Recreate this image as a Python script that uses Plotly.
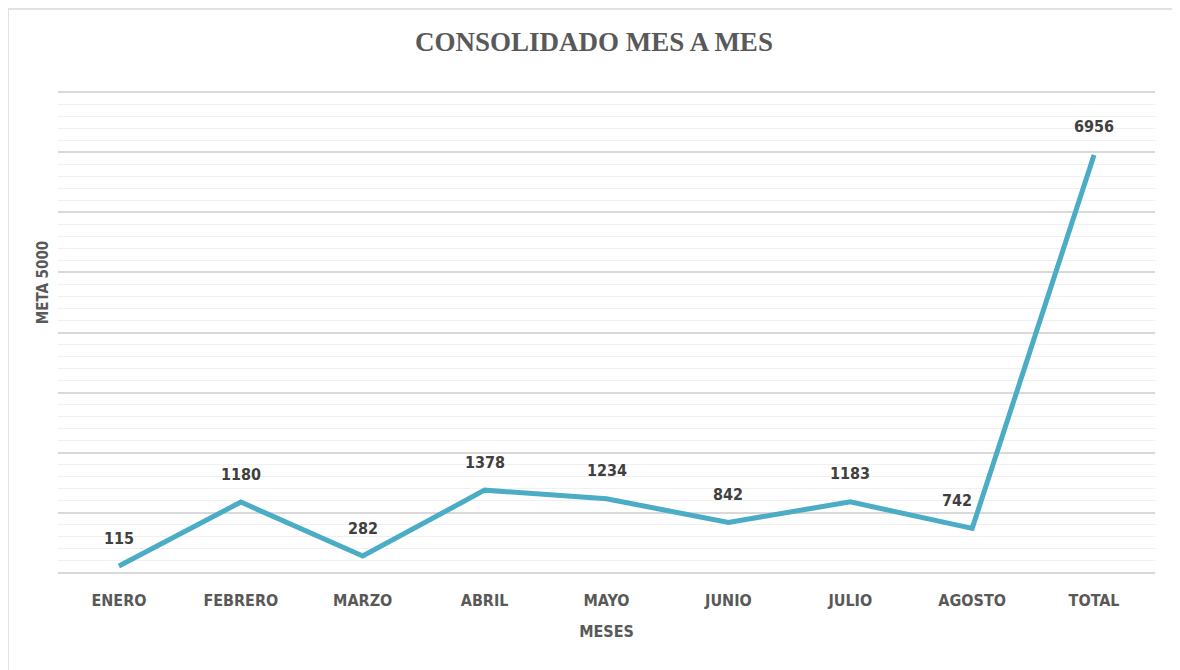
import plotly.graph_objects as go

meses = ["ENERO", "FEBRERO", "MARZO", "ABRIL", "MAYO", "JUNIO", "JULIO", "AGOSTO", "TOTAL"]
valores = [115, 1180, 282, 1378, 1234, 842, 1183, 742, 6956]
label_pos = ["c", "c", "c", "c", "c", "c", "c", "l", "c"]

title_text = "CONSOLIDADO MES A MES"
y_title = "META 5000"
x_title = "MESES"

LINE = "#4BACC6"
TXT = "#595959"
LBL = "#404040"
NARROW = "DejaVu Sans Condensed, Liberation Sans Narrow, Arial Narrow, sans-serif"

fig = go.Figure()
fig.add_trace(go.Scatter(
    x=meses, y=valores, mode="lines",
    line=dict(color=LINE, width=5, shape="linear"),
    hoverinfo="x+y", showlegend=False,
))

for m, v, p in zip(meses, valores, label_pos):
    fig.add_annotation(
        x=m, y=v, text=f"<b>{v}</b>", showarrow=False,
        xanchor="right" if p == "l" else "center",
        xshift=2 if p == "l" else 0,
        yshift=28, yanchor="middle",
        font=dict(family=NARROW, size=16, color=LBL),
    )

fig.add_annotation(
    xref="paper", yref="paper", x=-0.0137, y=0.604, text=f"<b>{y_title}</b>",
    textangle=-90, showarrow=False, xanchor="center", yanchor="middle",
    font=dict(family=NARROW, size=15, color=TXT),
)

W, H = 1172, 662
L, R, T, B = 50, 25, 83, 96
pw, ph = W - L - R, H - T - B

fig.update_layout(
    width=W, height=H,
    paper_bgcolor="white", plot_bgcolor="white",
    margin=dict(l=L, r=R, t=T, b=B),
    title=dict(
        text=f"<b>{title_text}</b>", x=0.5, xanchor="center",
        y=1 - 34 / H, yref="container", yanchor="middle",
        font=dict(family="Liberation Serif, serif", size=27, color=TXT),
    ),
    xaxis=dict(
        type="category", showgrid=False, zeroline=False, showline=False,
        ticks="", ticklabelstandoff=15,
        tickfont=dict(family=NARROW, size=16, color=TXT),
        tickprefix="<b>", ticksuffix="</b>",
        title=dict(text=f"<b>{x_title}</b>", standoff=16,
                   font=dict(family=NARROW, size=16, color=TXT)),
        range=[-0.5, len(meses) - 0.5],
    ),
    yaxis=dict(
        range=[-17, 8020], dtick=1000, showticklabels=False, ticks="",
        showgrid=True, gridcolor="#D9D9D9", gridwidth=1.5,
        zeroline=False, showline=False,
        minor=dict(dtick=200, showgrid=True, gridcolor="#F0F0F0", gridwidth=1.2),
    ),
    shapes=[dict(type="rect", xref="paper", yref="paper",
                 x0=-L / pw, x1=(W - L - 3) / pw,
                 y0=-(B + 10) / ph, y1=1 + (T - 1) / ph,
                 line=dict(color="#D9D9D9", width=1.5), layer="below")],
)

fig.write_html("out.html")
